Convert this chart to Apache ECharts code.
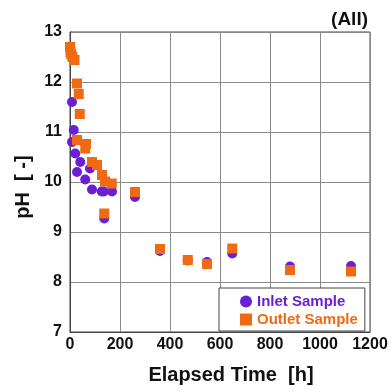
<!DOCTYPE html>
<html><head><meta charset="utf-8">
<script src="https://cdn.jsdelivr.net/npm/echarts@6/dist/echarts.min.js"></script>
<style>html,body{margin:0;padding:0;background:#fff}#c{width:392px;height:392px}</style>
</head><body><div id="c"></div>
<script>
const xTicks = [0, 200, 400, 600, 800, 1000, 1200];
const yTicks = [7, 8, 9, 10, 11, 12, 13];
const inletTime = [8, 15, 8, 21, 41, 28, 61, 80, 88, 127, 135, 168, 137, 260, 360, 471, 548, 649, 880, 1124];
const inletPH   = [11.6, 11.04, 10.8, 10.57, 10.4, 10.2, 10.05, 10.27, 9.85, 9.81, 9.81, 9.81, 9.27, 9.7, 8.62, 8.43, 8.40, 8.57, 8.31, 8.32];
const outletTime = [0, 2, 5, 10, 18, 28, 35, 39, 28, 64, 61, 88, 108, 128, 140, 167, 137, 260, 360, 471, 548, 649, 880, 1124];
const outletPH   = [12.7, 12.6, 12.55, 12.5, 12.44, 11.97, 11.76, 11.36, 10.84, 10.76, 10.67, 10.4, 10.34, 10.14, 10.01, 9.97, 9.37, 9.8, 8.66, 8.44, 8.36, 8.67, 8.24, 8.21];

const purple = '#6a1ed6', orange = '#f06a12';
const pts = (xs, ys) => xs.map((x, i) => [x, ys[i]]);
const chart = echarts.init(document.getElementById('c'));
const font = 'Liberation Sans, Arial, sans-serif';
chart.setOption({
  animation: false,
  backgroundColor: '#fff',
  title: { text: '(All)', right: 19, top: 5, textStyle: { fontFamily: font, fontSize: 19, fontWeight: 'bold', color: '#111' } },
  grid: { left: 70, right: 22, top: 32, bottom: 60, show: true, borderColor: '#444', borderWidth: 1 },
  xAxis: {
    type: 'value', min: xTicks[0], max: xTicks[xTicks.length - 1], interval: 200,
    name: 'Elapsed Time  [h]', nameLocation: 'middle', nameGap: 33,
    nameTextStyle: { fontFamily: font, fontSize: 20, fontWeight: 'bold', color: '#111', padding: [0, 0, 0, 22] },
    axisLine: { show: true, lineStyle: { color: '#444' } }, axisTick: { show: false },
    axisLabel: { fontFamily: font, fontSize: 16, fontWeight: 'bold', color: '#111', margin: 5, formatter: v => String(v) },
    splitLine: { show: true, lineStyle: { color: '#8a8a8a', width: 1 } }
  },
  yAxis: {
    type: 'value', min: yTicks[0], max: yTicks[yTicks.length - 1], interval: 1,
    name: 'pH  [ -]', nameLocation: 'middle', nameGap: 36, nameRotate: 90,
    nameTextStyle: { fontFamily: font, fontSize: 20, fontWeight: 'bold', color: '#111', padding: [0, 10, 0, 0] },
    axisLine: { show: true, lineStyle: { color: '#444' } }, axisTick: { show: false },
    axisLabel: { fontFamily: font, fontSize: 16, fontWeight: 'bold', color: '#111', margin: 8, formatter: v => String(v) },
    splitLine: { show: true, lineStyle: { color: '#8a8a8a', width: 1 } }
  },
  legend: {
    orient: 'vertical', left: 219, top: 288,
    padding: [6, 7, 4, 21], itemGap: 3, itemWidth: 12, itemHeight: 12,
    borderColor: '#444', borderWidth: 1, backgroundColor: '#fff',
    textStyle: { fontFamily: font, fontSize: 15, fontWeight: 'bold' },
    data: [
      { name: 'Inlet Sample', icon: 'circle', textStyle: { color: purple } },
      { name: 'Outlet Sample', icon: 'rect', textStyle: { color: orange } }
    ]
  },
  series: [
    { name: 'Inlet Sample', type: 'scatter', symbol: 'circle', symbolSize: 10, itemStyle: { color: purple, opacity: 1 }, data: pts(inletTime, inletPH), clip: false },
    { name: 'Outlet Sample', type: 'scatter', symbol: 'rect', symbolSize: 10, itemStyle: { color: orange, opacity: 1 }, data: pts(outletTime, outletPH), clip: false }
  ]
});
</script></body></html>
